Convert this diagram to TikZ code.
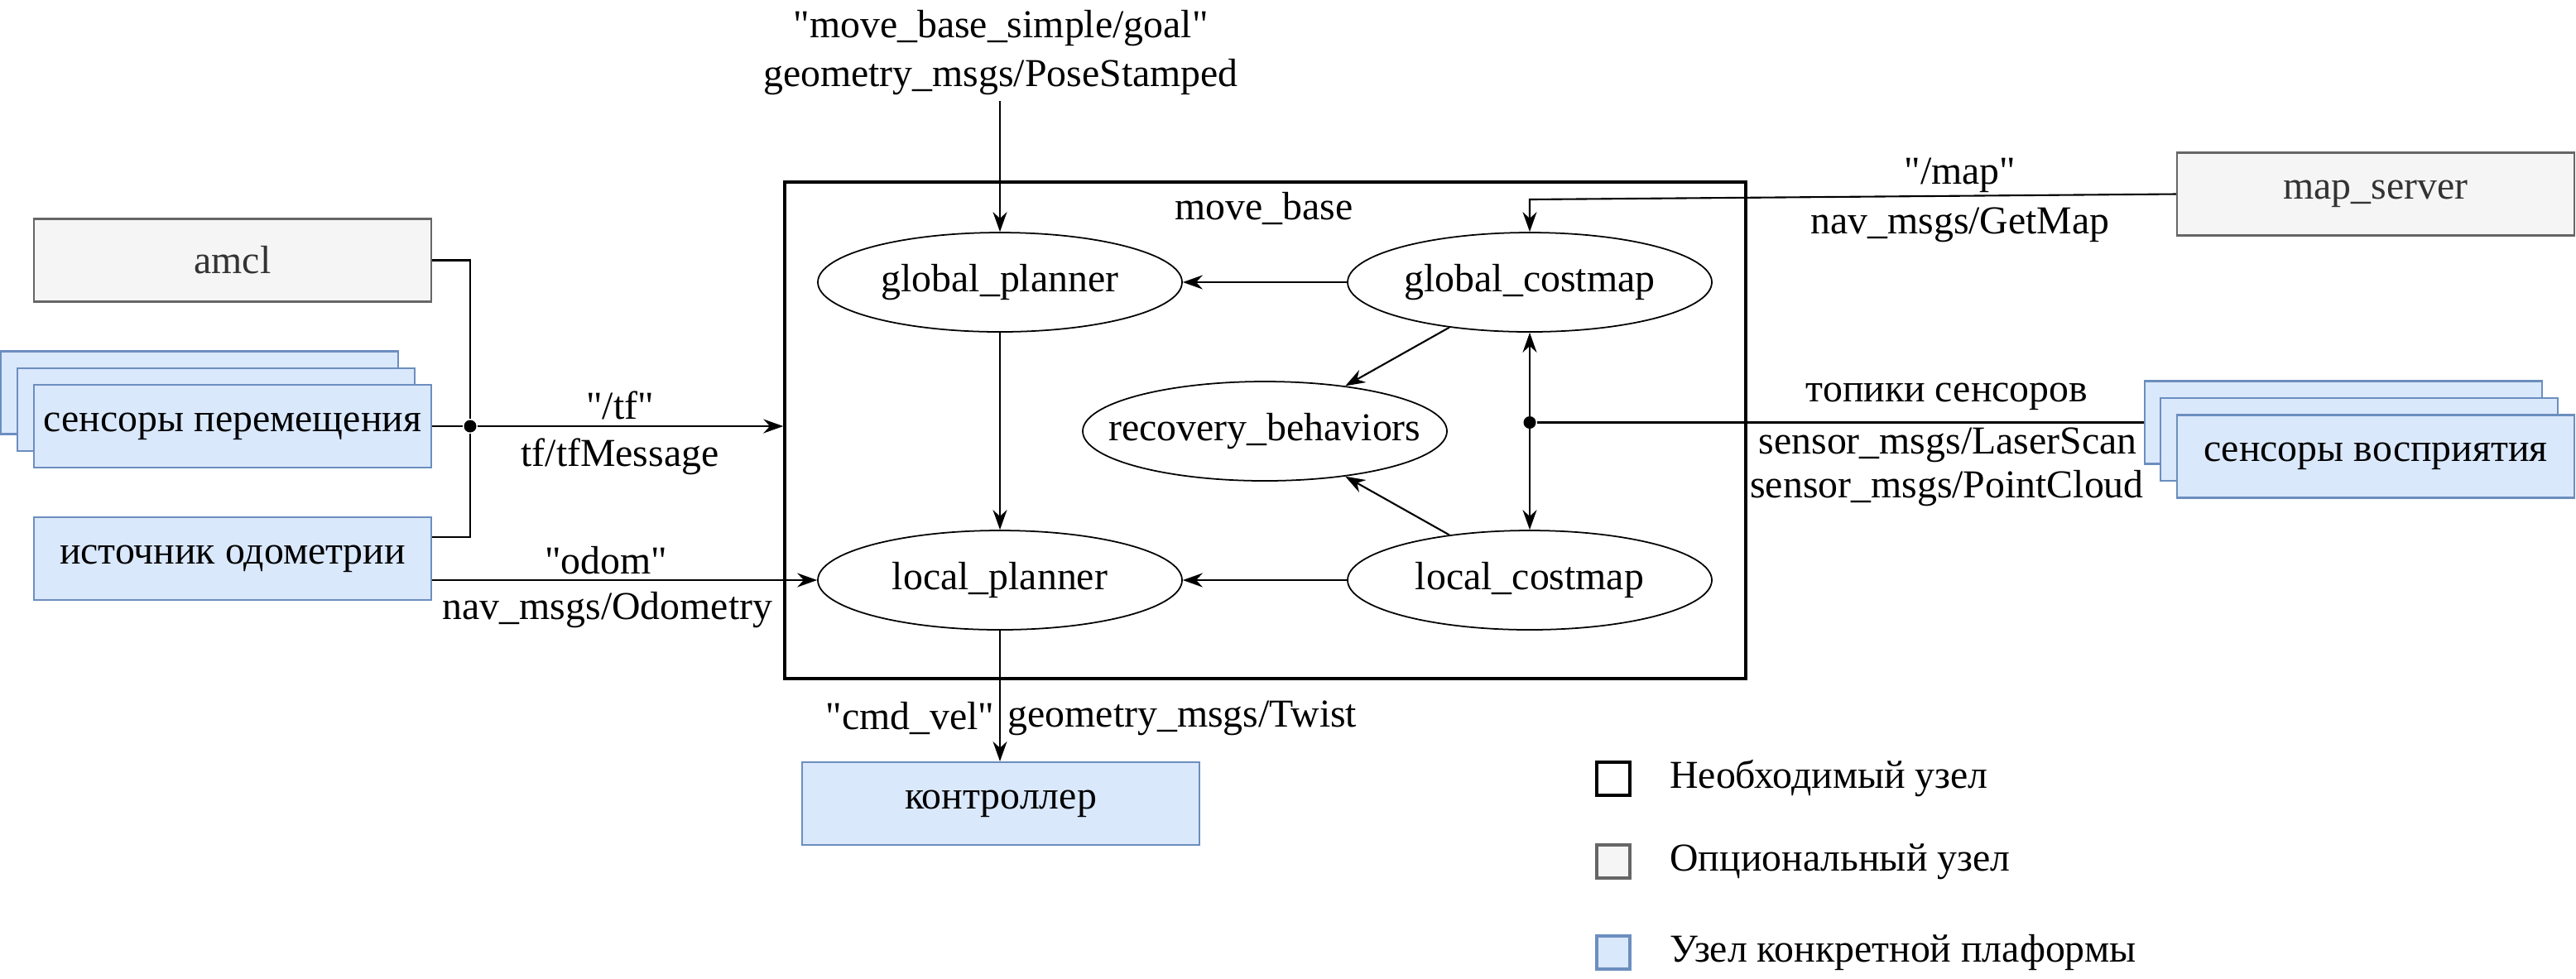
\documentclass[tikz,border=0pt]{standalone}
\usepackage{fontspec}
\setmainfont{Liberation Serif}[Ligatures=TeXOff]
\newfontfamily\diagfont{Liberation Serif}[Ligatures=TeXOff]
\usepackage{xcolor}
\usepackage{tikz}
\usetikzlibrary{positioning,shapes,arrows.meta,calc}
\definecolor{optfill}{HTML}{F5F5F5}
\definecolor{optline}{HTML}{666666}
\definecolor{opttext}{HTML}{333333}
\definecolor{platfill}{HTML}{DAE8FC}
\definecolor{platline}{HTML}{6C8EBF}

\begin{document}
\begin{tikzpicture}[
        font=\diagfont\fontsize{13.6}{16.8}\selectfont,
        >={Stealth[length=2.4mm,width=1.7mm]},
        line width=0.6pt,
        optnode/.style={rectangle, draw=optline, fill=optfill, text=opttext, inner sep=1pt, minimum width=4.8cm, minimum height=1cm},
        platnode/.style={rectangle, draw=platline, fill=platfill, inner sep=1pt, minimum width=4.8cm, minimum height=1cm},
        procnode/.style={ellipse, draw, line width=0.5pt, inner xsep=-0.35cm, inner ysep=0pt, minimum width=4.4cm, minimum height=1.2cm},
        legendbox/.style={rectangle, inner sep=0pt, minimum size=0.4cm},
        junction/.style={circle, fill, inner sep=0pt, minimum size=0.15cm},
        lbl/.style={inner sep=1pt}
    ]
        \useasboundingbox (0,0) rectangle (31.12,-11.82);

        % move_base and its parts
        \node[draw, line width=1pt, minimum width=11.61cm, minimum height=6cm] (movebase) at (15.285,-5.2) {};
        \node[lbl] (mbtitle) at (15.27,-2.52) {move\_base};
        \node[procnode] (gplan) at (12.08,-3.41) {global\_planner};
        \node[procnode] (gcost) at (18.48,-3.41) {global\_costmap};
        \node[procnode] (recov) at (15.28,-5.21) {recovery\_behaviors};
        \node[procnode] (lplan) at (12.08,-7.01) {local\_planner};
        \node[procnode] (lcost) at (18.48,-7.01) {local\_costmap};

        \draw[->] (gcost) -- (gplan);
        \draw[->] (gplan) -- (lplan);
        \draw[->] (lcost) -- (lplan);
        \draw[->] (gcost) -- (recov);
        \draw[->] (lcost) -- (recov);
        \draw[<->] (gcost) -- (lcost);

        % left side
        \node[optnode] (amcl) at (2.81,-3.145) {amcl};
        \node[platnode] (sensmoveC) at (2.41,-4.745) {};
        \node[platnode] (sensmoveB) at (2.61,-4.95) {};
        \node[platnode] (sensmove) at (2.81,-5.15) {сенсоры перемещения};
        \node[platnode] (odomsrc) at (2.81,-6.75) {источник одометрии};
        \node[junction] (jtf) at (5.68,-5.15) {};

        \draw (amcl.east) -| (jtf);
        \draw (sensmove.east) -- (jtf);
        \draw ($(odomsrc.east)+(0,0.26)$) -| (jtf);
        \draw[->] (jtf) -- (jtf -| movebase.west);
        \node[lbl] (tftopic) at (7.49,-4.9) {"/tf"};
        \node[lbl] (tfmsg) at (7.49,-5.52) {tf/tfMessage};

        \draw[->] (odomsrc.east |- lplan.west) -- (lplan.west);
        \node[lbl] (odomtopic) at (7.32,-6.77) {"odom"};
        \node[lbl] (odommsg) at (7.34,-7.37) {nav\_msgs/Odometry};

        % goal on top
        \node[lbl] (goaltopic) at (12.09,-0.34) {"move\_base\_simple/goal"};
        \node[lbl] (goalmsg) at (12.09,-0.93) {geometry\_msgs/PoseStamped};
        \coordinate (goalsrc) at (12.08,-1.22);
        \draw[->] (goalsrc) -- (gplan.north);

        % right side
        \node[optnode] (mapsrv) at (28.7,-2.345) {map\_server};
        \coordinate (mapbend) at (18.48,-2.41);
        \draw[->] (mapsrv.west) -- (mapbend) -- (gcost.north);
        \node[lbl] (maptopic) at (23.68,-2.12) {"/map"};
        \node[lbl] (mapmsg) at (23.68,-2.72) {nav\_msgs/GetMap};

        \node[platnode] (sensperC) at (28.31,-5.105) {};
        \node[platnode] (sensperB) at (28.5,-5.31) {};
        \node[platnode] (sensper) at (28.7,-5.515) {сенсоры восприятия};
        \node[junction] (jsens) at (18.48,-5.105) {};
        \draw (jsens) -- (sensperC.west);
        \node[lbl] (senstopic) at (23.52,-4.79) {топики сенсоров};
        \node[lbl] (sensscan) at (23.53,-5.38) {sensor\_msgs/LaserScan};
        \node[lbl] (senscloud) at (23.52,-5.9) {sensor\_msgs/PointCloud};

        % bottom
        \node[platnode] (ctrl) at (12.09,-9.71) {контроллер};
        \draw[->] (lplan) -- (lplan |- ctrl.north);
        \node[lbl, anchor=east] (cmdtopic) at (12.06,-8.68) {"cmd\_vel"};
        \node[lbl, anchor=west] (cmdmsg) at (12.13,-8.68) {geometry\_msgs/Twist};

        % legend
        \node[legendbox, draw, line width=1pt] (lgreq) at (19.49,-9.41) {};
        \node[legendbox, draw=optline, fill=optfill, line width=1pt] (lgopt) at (19.49,-10.41) {};
        \node[legendbox, draw=platline, fill=platfill, line width=1pt] (lgplat) at (19.49,-11.51) {};
        \node[lbl, right=0.42cm of lgreq] {Необходимый узел};
        \node[lbl, right=0.42cm of lgopt] {Опциональный узел};
        \node[lbl, right=0.42cm of lgplat] {Узел конкретной плаформы};
    \end{tikzpicture}
\end{document}
